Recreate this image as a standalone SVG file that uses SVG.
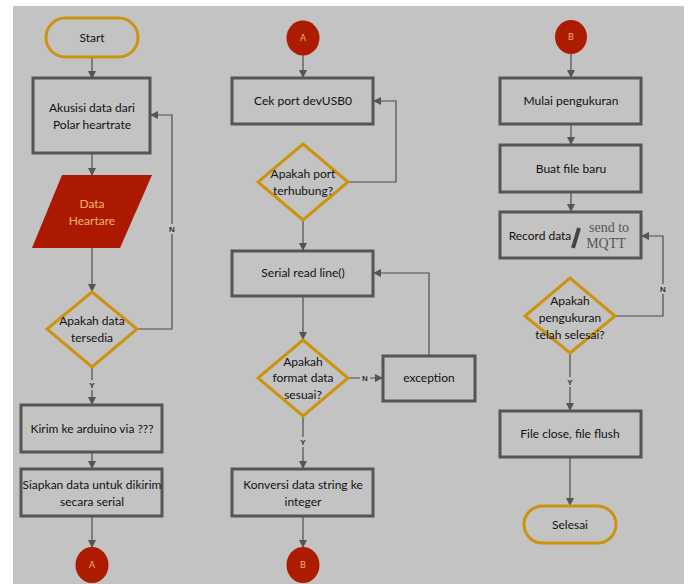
<svg xmlns="http://www.w3.org/2000/svg" width="688" height="584" viewBox="0 0 688 584">
<defs>
<marker id="ah" markerWidth="8" markerHeight="8" refX="7" refY="4" orient="auto" markerUnits="userSpaceOnUse">
<path d="M0,0 L8,4 L0,8 Z" fill="#555"/>
</marker>
<style>
.box{fill:#c3c3c3;stroke:#555;stroke-width:3}
.dia{fill:#c3c3c3;stroke:#cc940e;stroke-width:3}
.term{fill:#c3c3c3;stroke:#cc940e;stroke-width:3}
.con{fill:#ad1b00}
.t{font-family:Lato,"Liberation Sans",sans-serif;font-size:12px;fill:#111;text-anchor:middle}
.ct{font-family:Lato,"Liberation Sans",sans-serif;font-size:9px;fill:#f2b56a;text-anchor:middle}
.lbl{font-family:"Liberation Sans",sans-serif;font-size:8px;font-weight:bold;fill:#333;text-anchor:middle}
.ln{fill:none;stroke:#4d4d4d;stroke-width:1.2}
</style>
</defs>
<rect x="13" y="6" width="671" height="578" fill="#c3c3c3"/>

<g id="connectors">
<path class="ln" d="M92,57 V78" marker-end="url(#ah)"/>
<path class="ln" d="M92,153 V175" marker-end="url(#ah)"/>
<path class="ln" d="M92,248 V291" marker-end="url(#ah)"/>
<path class="ln" d="M137,329 H172 V115 H151" marker-end="url(#ah)"/>
<rect x="168" y="224" width="8" height="10" fill="#c3c3c3"/>
<text class="lbl" x="172" y="232">N</text>
<path class="ln" d="M92,367 V404" marker-end="url(#ah)"/>
<rect x="88" y="380" width="8" height="10" fill="#c3c3c3"/>
<text class="lbl" x="92" y="388">Y</text>
<path class="ln" d="M92,452 V468" marker-end="url(#ah)"/>
<path class="ln" d="M92,516 V547" marker-end="url(#ah)"/>

<path class="ln" d="M303,55 V77" marker-end="url(#ah)"/>
<path class="ln" d="M348,182 H396 V101 H374" marker-end="url(#ah)"/>
<path class="ln" d="M303,220 V250" marker-end="url(#ah)"/>
<path class="ln" d="M303,296 V339" marker-end="url(#ah)"/>
<path class="ln" d="M348,378 H382" marker-end="url(#ah)"/>
<rect x="360" y="373" width="10" height="10" fill="#c3c3c3"/>
<text class="lbl" x="365" y="381">N</text>
<path class="ln" d="M429,356 V273 H374" marker-end="url(#ah)"/>
<path class="ln" d="M303,416 V468" marker-end="url(#ah)"/>
<rect x="299" y="437" width="8" height="10" fill="#c3c3c3"/>
<text class="lbl" x="303" y="445">Y</text>
<path class="ln" d="M303,516 V547" marker-end="url(#ah)"/>

<path class="ln" d="M571,54 V77" marker-end="url(#ah)"/>
<path class="ln" d="M571,124 V144" marker-end="url(#ah)"/>
<path class="ln" d="M571,192 V211" marker-end="url(#ah)"/>
<path class="ln" d="M615,316 H663 V236 H642" marker-end="url(#ah)"/>
<rect x="659" y="284" width="8" height="10" fill="#c3c3c3"/>
<text class="lbl" x="663" y="292">N</text>
<path class="ln" d="M570,353 V410" marker-end="url(#ah)"/>
<rect x="566" y="377" width="8" height="10" fill="#c3c3c3"/>
<text class="lbl" x="570" y="385">Y</text>
<path class="ln" d="M570,457 V505" marker-end="url(#ah)"/>
</g>

<g id="start">
<rect class="term" x="46" y="18" width="92" height="39" rx="19.5"/>
<text class="t" x="92" y="42">Start</text>
</g>
<g id="akusisi">
<rect class="box" x="33" y="78" width="117" height="75"/>
<text class="t" x="92" y="112">Akusisi data dari</text>
<text class="t" x="92" y="129">Polar heartrate</text>
</g>
<g id="data-heartare">
<polygon points="62,175 152,175 120,248 32,248" fill="#ab1a00"/>
<text class="t" x="92" y="208" style="fill:#f2b56a">Data</text>
<text class="t" x="92" y="225" style="fill:#f2b56a">Heartare</text>
</g>
<g id="apakah-data">
<polygon class="dia" points="92,292 137,329 92,367 47,329"/>
<text class="t" x="92" y="325">Apakah data</text>
<text class="t" x="92" y="342">tersedia</text>
</g>
<g id="kirim">
<rect class="box" x="21" y="405" width="141" height="47"/>
<text class="t" x="92" y="433">Kirim ke arduino via ???</text>
</g>
<g id="siapkan">
<rect class="box" x="21" y="469" width="141" height="47"/>
<text class="t" x="92" y="489">Siapkan data untuk dikirim</text>
<text class="t" x="92" y="506">secara serial</text>
</g>
<g id="conn-a-out">
<ellipse class="con" cx="92" cy="565" rx="16.5" ry="18"/>
<text class="ct" x="92" y="568">A</text>
</g>

<g id="conn-a-in">
<ellipse class="con" cx="303" cy="38" rx="16.5" ry="17.5"/>
<text class="ct" x="303" y="41">A</text>
</g>
<g id="cek-port">
<rect class="box" x="232" y="78" width="141" height="46"/>
<text class="t" x="303" y="105">Cek port devUSB0</text>
</g>
<g id="apakah-port">
<polygon class="dia" points="303,144 348,182 303,220 258,182"/>
<text class="t" x="303" y="178">Apakah port</text>
<text class="t" x="303" y="195">terhubung?</text>
</g>
<g id="serial-read">
<rect class="box" x="232" y="251" width="141" height="45"/>
<text class="t" x="303" y="277">Serial read line()</text>
</g>
<g id="apakah-format">
<polygon class="dia" points="303,340 348,378 303,416 258,378"/>
<text class="t" x="303" y="366">Apakah</text>
<text class="t" x="303" y="382">format data</text>
<text class="t" x="303" y="399">sesuai?</text>
</g>
<g id="exception">
<rect class="box" x="383" y="356" width="92" height="45"/>
<text class="t" x="429" y="382">exception</text>
</g>
<g id="konversi">
<rect class="box" x="232" y="469" width="141" height="47"/>
<text class="t" x="303" y="489">Konversi data string ke</text>
<text class="t" x="303" y="506">integer</text>
</g>
<g id="conn-b-out">
<ellipse class="con" cx="303" cy="565" rx="16.5" ry="18"/>
<text class="ct" x="303" y="568">B</text>
</g>

<g id="conn-b-in">
<ellipse class="con" cx="571" cy="37" rx="16" ry="17"/>
<text class="ct" x="571" y="40">B</text>
</g>
<g id="mulai">
<rect class="box" x="500" y="78" width="141" height="46"/>
<text class="t" x="571" y="105">Mulai pengukuran</text>
</g>
<g id="buat-file">
<rect class="box" x="500" y="145" width="141" height="47"/>
<text class="t" x="571" y="173">Buat file baru</text>
</g>
<g id="record">
<rect class="box" x="500" y="212" width="141" height="46"/>
<text class="t" x="540" y="240">Record data</text>
<path d="M573,248 L579,228" stroke="#444" stroke-width="4"/>
<text x="609" y="232" font-family="Liberation Serif,serif" font-size="14" fill="#555" text-anchor="middle">send to</text>
<text x="606" y="248" font-family="Liberation Serif,serif" font-size="14" fill="#555" text-anchor="middle">MQTT</text>
</g>
<g id="apakah-selesai">
<polygon class="dia" points="570,278 615,316 570,353 525,316"/>
<text class="t" x="570" y="305">Apakah</text>
<text class="t" x="570" y="322">pengukuran</text>
<text class="t" x="570" y="339">telah selesai?</text>
</g>
<g id="file-close">
<rect class="box" x="500" y="411" width="141" height="46"/>
<text class="t" x="570" y="438">File close, file flush</text>
</g>
<g id="selesai">
<rect class="term" x="524" y="506" width="92" height="37" rx="18.5"/>
<text class="t" x="570" y="529">Selesai</text>
</g>
</svg>
